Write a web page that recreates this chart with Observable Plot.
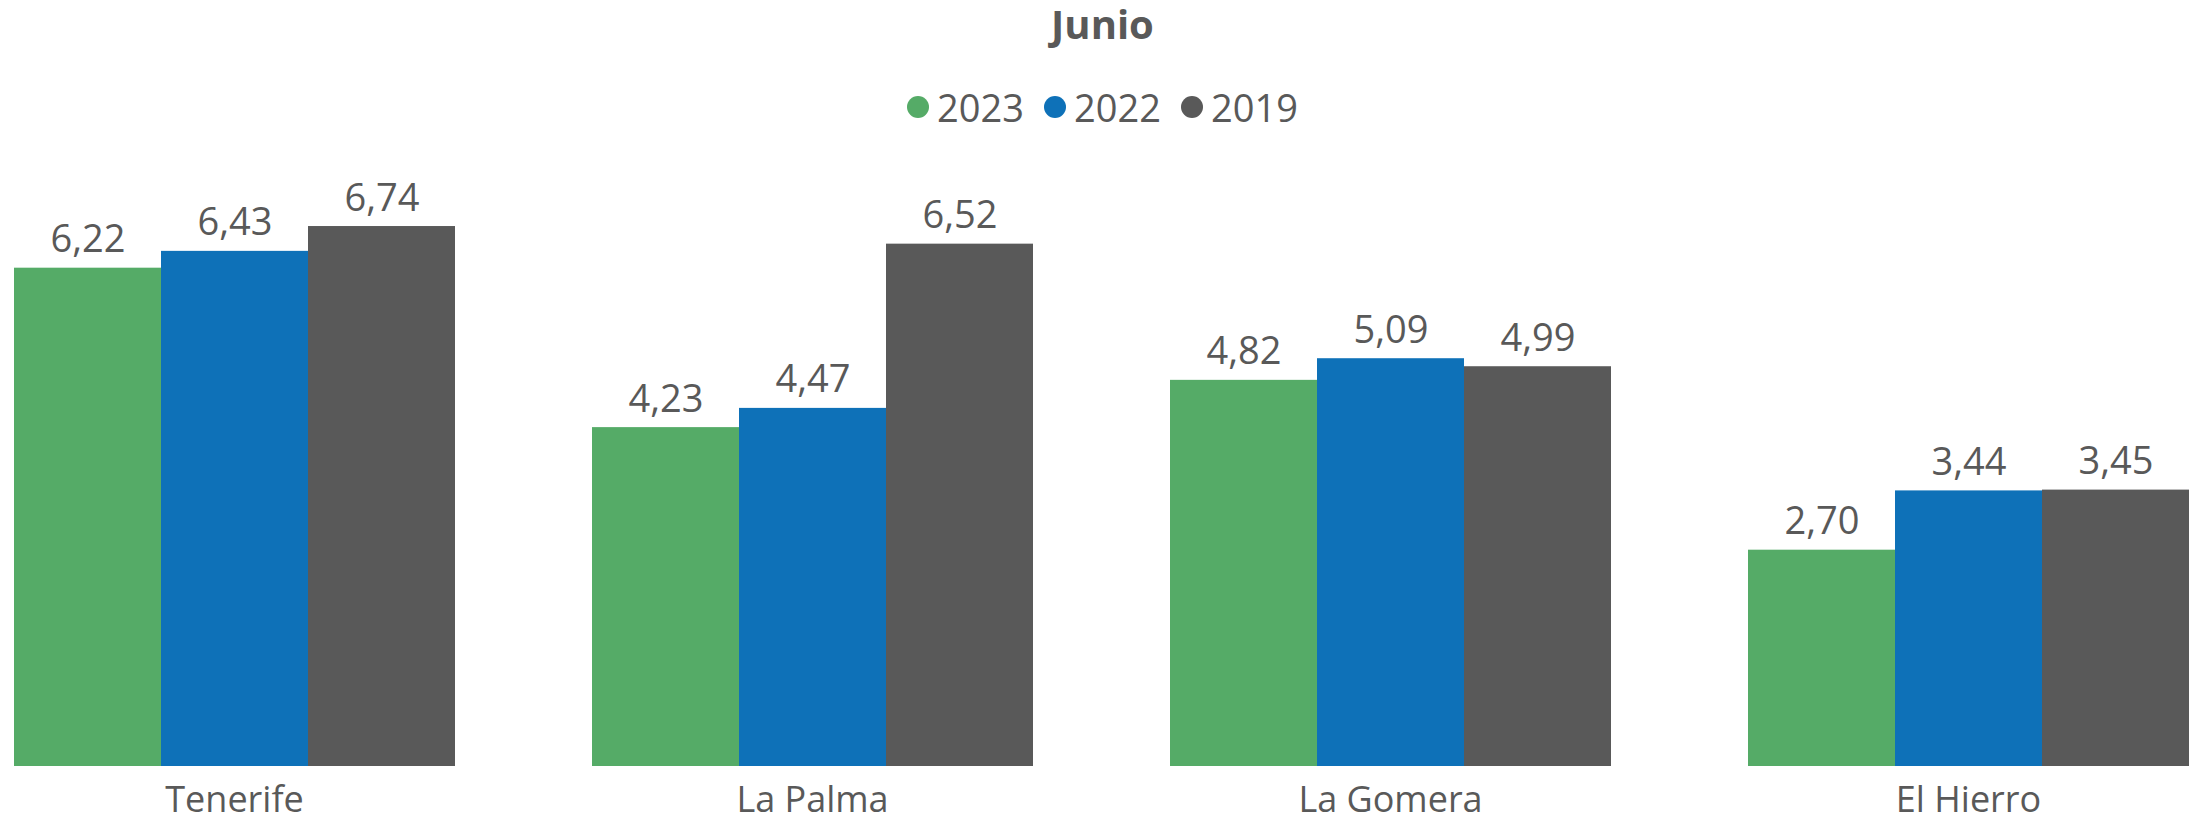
<!DOCTYPE html>
<html>
<head>
<meta charset="utf-8">
<script src="https://cdn.jsdelivr.net/npm/d3@7"></script>
<script src="https://cdn.jsdelivr.net/npm/@observablehq/plot@0.6"></script>
<style>
  html, body { margin: 0; padding: 0; background: #fff; }
  body { width: 2205px; height: 824px; overflow: hidden; font-family: "Open Sans", sans-serif; color: #595959; }
  #header { position: relative; width: 2205px; height: 140px; }
  #title { position: absolute; left: 0; right: 0; top: 4px; text-align: center; font-size: 40px; line-height: 1; font-weight: bold; }
  #legend { position: absolute; left: 0; right: 0; top: 88px; display: flex; justify-content: center; align-items: center; font-size: 38px; line-height: 1; }
  .item { display: flex; align-items: center; margin: 0 10px; }
  .dot { width: 22px; height: 22px; border-radius: 50%; margin-right: 8px; }
  #chart svg { display: block; }
</style>
</head>
<body>
<div id="header"><div id="title"></div><div id="legend"></div></div>
<div id="chart"></div>
<script>
const title = "Junio";
const islands = ["Tenerife", "La Palma", "La Gomera", "El Hierro"];
const years = ["2023", "2022", "2019"];
const colors = ["#55AB67", "#0E71B8", "#595959"];
const values2023 = [6.22, 4.23, 4.82, 2.70];
const values2022 = [6.43, 4.47, 5.09, 3.44];
const values2019 = [6.74, 6.52, 4.99, 3.45];

const series = [values2023, values2022, values2019];
const data = [];
islands.forEach((isl, i) => years.forEach((yr, j) => data.push({island: isl, year: yr, value: series[j][i]})));

document.getElementById("title").textContent = title;
const legend = document.getElementById("legend");
years.forEach((yr, j) => {
  const it = document.createElement("div");
  it.className = "item";
  const dot = document.createElement("span");
  dot.className = "dot";
  dot.style.background = colors[j];
  const lab = document.createElement("span");
  lab.textContent = yr;
  it.appendChild(dot); it.appendChild(lab);
  legend.appendChild(it);
});

const fmt = v => d3.format(".2f")(v).replace(".", ",");

const chart = Plot.plot({
  width: 2205,
  height: 684,
  marginLeft: 12,
  marginRight: 14,
  marginTop: 65.2,
  marginBottom: 58,
  style: {fontFamily: "Open Sans, sans-serif", fontSize: "36px", color: "#595959", background: "#fff"},
  fx: {domain: islands, paddingInner: 0.2345, paddingOuter: 0, axis: "bottom", tickSize: 0, tickPadding: 20, label: null},
  x: {domain: years, padding: 0, axis: null},
  y: {domain: [0, 7], axis: null},
  color: {domain: years, range: colors},
  facet: {marginTop: 0, marginBottom: 0, marginLeft: 0, marginRight: 0},
  marks: [
    Plot.barY(data, {fx: "island", x: "year", y: "value", fill: "year"}),
    Plot.text(data, {fx: "island", x: "year", y: "value", text: d => fmt(d.value), lineAnchor: "bottom", dy: -16, fill: "#595959", fontSize: 38})
  ]
});
document.getElementById("chart").appendChild(chart);
</script>
</body>
</html>
